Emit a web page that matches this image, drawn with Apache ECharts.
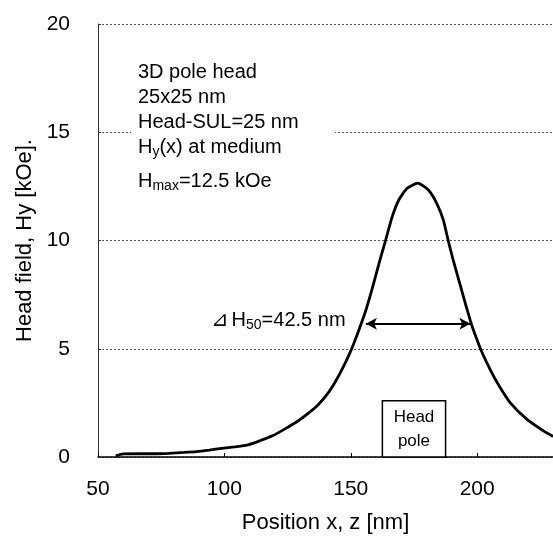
<!DOCTYPE html>
<html>
<head>
<meta charset="utf-8">
<script src="https://cdn.jsdelivr.net/npm/echarts@6/dist/echarts.min.js"></script>
<style>
  html, body { margin: 0; padding: 0; background: #fff; }
  #main { width: 553px; height: 540px; }
</style>
</head>
<body>
<div id="main"></div>
<script>
// curve: position (nm) and Hy (kOe)
var posX = [57, 60, 66, 72, 78, 84, 89, 94, 99, 104, 109, 114, 119, 124, 129, 133, 137, 141, 144, 147,
  150, 153, 156, 158.7, 161.2, 163.8, 166.4, 169, 172.3, 176.5, 180.7, 184, 186.6, 188.5, 190.5,
  193.1, 195.7, 197.6, 199.5, 201.5, 205.3, 208.6, 213.1, 219.6, 226.7, 230]
var fieldH = [0.05, 0.14, 0.15, 0.15, 0.17, 0.21, 0.25, 0.32, 0.40, 0.47, 0.55, 0.75, 0.98, 1.30, 1.65, 2.0, 2.4, 2.95, 3.5, 4.15,
  4.9, 5.8, 6.79, 7.87, 8.95, 10.02, 11.10, 11.87, 12.41, 12.65, 12.33, 11.72, 10.95, 10.02, 9.10,
  8.02, 6.94, 6.18, 5.55, 4.94, 4.0, 3.3, 2.5, 1.75, 1.17, 0.95]
// half-width arrow: [x start, x end, level]
var halfWidth = [156, 197.3, 6.15]
// head pole box: [x left, x right, top]
var poleBox = [162.5, 187.5, 2.6]

var font = 'Liberation Sans'
var curve = posX.map(function (x, i) { return [x, fieldH[i]] })

var myChart = echarts.init(document.getElementById('main'))
var option = {
  animation: false,
  backgroundColor: '#fff',
  textStyle: { fontFamily: font, color: '#000' },
  grid: { left: 98, right: -7, top: 24, bottom: 83 },
  xAxis: {
    type: 'value',
    min: 50,
    max: 230,
    interval: 50,
    name: 'Position x, z [nm]',
    nameLocation: 'middle',
    nameGap: 55,
    nameTextStyle: { fontSize: 22, color: '#000', fontFamily: font },
    axisLine: { lineStyle: { color: '#000', width: 1.5 } },
    axisTick: { inside: true, length: 4, lineStyle: { color: '#000' } },
    axisLabel: { fontSize: 21, color: '#000', margin: 22, showMaxLabel: false, fontFamily: font },
    splitLine: { show: false }
  },
  yAxis: {
    type: 'value',
    min: 0,
    max: 20,
    interval: 5,
    name: 'Head field, Hy [kOe].',
    nameLocation: 'middle',
    nameGap: 61,
    nameTextStyle: { fontSize: 22, color: '#000', fontFamily: font },
    axisLine: { show: true, lineStyle: { color: '#333', width: 1 } },
    axisTick: { show: true, inside: true, length: 3, lineStyle: { color: '#333' } },
    axisLabel: { fontSize: 21, color: '#000', margin: 28, fontFamily: font },
    splitLine: { lineStyle: { color: '#555', type: [2, 2], width: 1 } }
  },
  series: [
    {
      type: 'line',
      data: curve,
      smooth: 0.2,
      showSymbol: false,
      lineStyle: { color: '#000', width: 2.8 },
      markArea: {
        silent: true,
        itemStyle: { color: '#fff', borderColor: '#000', borderWidth: 1.5 },
        label: {
          show: true,
          position: 'inside',
          formatter: 'Head\npole',
          fontSize: 17,
          lineHeight: 24,
          color: '#000',
          fontFamily: font
        },
        data: [[{ coord: [poleBox[0], 0] }, { coord: [poleBox[1], poleBox[2]] }]]
      },
      markLine: {
        silent: true,
        symbol: ['arrow', 'arrow'],
        symbolSize: [9, 11],
        label: { show: false },
        lineStyle: { color: '#000', type: 'solid', width: 2 },
        data: [[{ coord: [halfWidth[0], halfWidth[2]] }, { coord: [halfWidth[1], halfWidth[2]] }]]
      }
    }
  ],
  graphic: [
    // white panel behind the annotation text (hides the 15 gridline)
    { type: 'rect', left: 131, top: 50, shape: { width: 204, height: 150 }, style: { fill: '#fff' }, z: 50 },
    {
      type: 'text', left: 138, top: 60, z: 51,
      style: {
        text: '3D pole head\n25x25 nm\nHead-SUL=25 nm',
        font: '20px "Liberation Sans"', lineHeight: 25, fill: '#000'
      }
    },
    {
      type: 'text', left: 138, top: 137, z: 51,
      style: {
        text: '{a|H}{s|y}{a|(x) at medium}',
        fill: '#000',
        rich: {
          a: { fontSize: 20, fontFamily: font, lineHeight: 26 },
          s: { fontSize: 14, fontFamily: font, padding: [11, 0, 0, 0] }
        }
      }
    },
    {
      type: 'text', left: 138, top: 171, z: 51,
      style: {
        text: '{a|H}{s|max}{a|=12.5 kOe}',
        fill: '#000',
        rich: {
          a: { fontSize: 20, fontFamily: font, lineHeight: 26 },
          s: { fontSize: 14, fontFamily: font, padding: [11, 0, 0, 0] }
        }
      }
    },
    {
      type: 'text', left: 211, top: 310, z: 51,
      style: {
        text: '{d|⊿}{a|H}{s|50}{a|=42.5 nm}',
        fill: '#000',
        rich: {
          d: { fontSize: 21, fontFamily: 'DejaVu Sans', lineHeight: 26, padding: [0, 3, 0, 0] },
          a: { fontSize: 20, fontFamily: font, lineHeight: 26 },
          s: { fontSize: 14, fontFamily: font, padding: [10, 0, 0, 0] }
        }
      }
    }
  ]
}
myChart.setOption(option)
</script>
</body>
</html>
